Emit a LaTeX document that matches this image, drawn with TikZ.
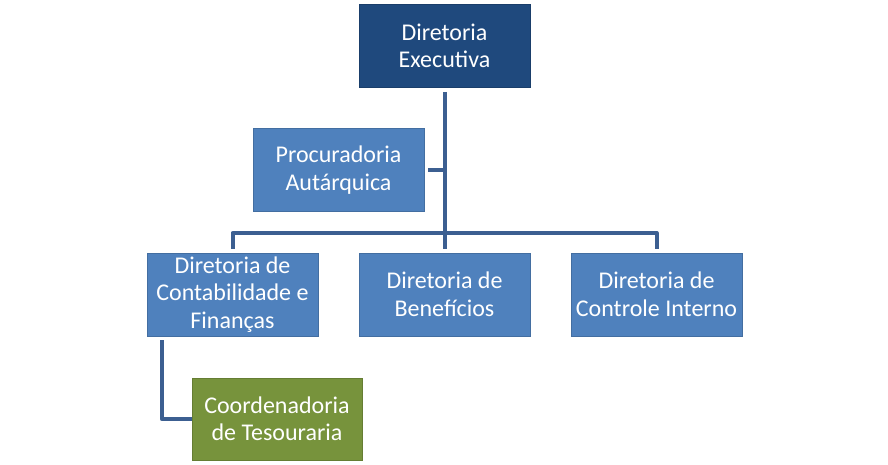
\documentclass[tikz,border=0pt]{standalone}
\usepackage{fontspec}
\setmainfont{Carlito}
\usepackage{tikz}
\usetikzlibrary{calc, positioning}
\usepackage{xcolor}
\definecolor{mynavy}{HTML}{1F497D}
\definecolor{myblue}{HTML}{4F81BD}
\definecolor{mygreen}{HTML}{77933C}
\definecolor{mylink}{HTML}{3C5F91}
\tikzset{
  unit/.style={draw=#1!85!black, fill=#1, line width=0.6pt, text=white,
    minimum width=171pt, minimum height=83pt, align=center, inner sep=0pt,
    font=\fontsize{24}{27.5}\selectfont},
  unit/.default=myblue,
  link/.style={line width=4pt, color=mylink, line join=round,
    shorten <=4pt, shorten >=4pt}
}
\begin{document}
\begin{tikzpicture}[x=1pt, y=-1pt]
  \useasboundingbox (0,0) rectangle (888,465);
  \node [unit=mynavy] (exec) at (444.5,46) {Diretoria\\Executiva};
  \node [unit] (proc) at (338.5,170) {Procuradoria\\Autárquica};
  \node [unit] (cont) at (232.5,294.5) {Diretoria de\\Contabilidade e\\Finanças};
  \node [unit] (bene) at (444.5,294.5) {Diretoria de\\Benefícios};
  \node [unit] (ctrl) at (656.5,294.5) {Diretoria de\\Controle Interno};
  \node [unit=mygreen, minimum width=170pt, minimum height=82pt] (tes) at (277,419) {Coordenadoria\\de Tesouraria};
  \coordinate (bus) at (444.5,233);
  \draw [link, shorten >=0pt] (exec.south) -- (bus);
  \draw [link, shorten >=0pt] (proc.east) -- (proc.east -| bus);
  \draw [link] (cont.north) |- (bus) -| (ctrl.north);
  \draw [link, shorten <=0pt] (bus) -- (bene.north);
  \draw [link, shorten >=0pt] ([xshift=15pt]cont.south west) |- (tes.west);
\end{tikzpicture}
\end{document}
